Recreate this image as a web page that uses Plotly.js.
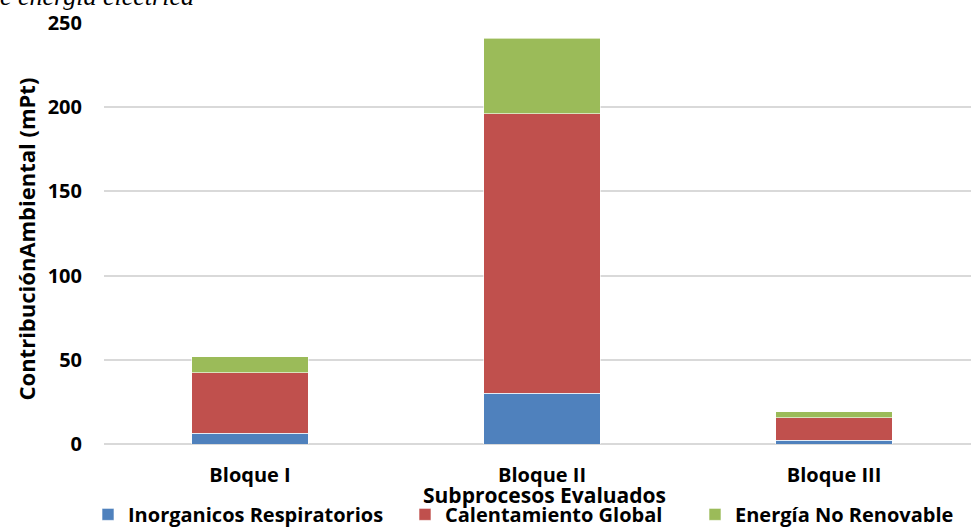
<!DOCTYPE html>
<html>
<head>
<meta charset="utf-8">
<script src="https://cdn.plot.ly/plotly-3.0.1.min.js"></script>
<style>html,body{margin:0;padding:0;background:#fff;}#chart{width:971px;height:529px;}</style>
</head>
<body>
<div id="chart"></div>
<script>
const categories = ["Bloque I", "Bloque II", "Bloque III"];
const seriesNames = ["Inorganicos Respiratorios", "Calentamiento Global", "Energía No Renovable"];
const inorganicos = [6.5, 30, 2.2];
const calentamiento = [35.7, 166, 13.4];
const energia = [9.5, 45, 3.6];
const yTicks = [0, 50, 100, 150, 200, 250];
const colors = ["#4f81bd", "#c0504d", "#9bbb59"];
const FONT = "'Open Sans', sans-serif";

const values = [inorganicos, calentamiento, energia];
const legendIds = ["legend", "legend2", "legend3"];
const legendTextX = [128, 445, 735];

const traces = values.map((v, i) => ({
  type: "bar",
  name: seriesNames[i],
  legend: legendIds[i],
  x: categories,
  y: v,
  width: 0.4,
  marker: {color: colors[i], line: {color: "rgba(255,255,255,0.6)", width: 1}},
  hoverinfo: "x+y+name"
}));

function legendAt(textX) {
  return {
    orientation: "h", xref: "container", yref: "container",
    x: (textX - 40) / 971, y: 0.0645, xanchor: "left", yanchor: "top",
    font: {family: FONT, size: 20, color: "#000", weight: 700},
    itemclick: false, borderwidth: 0, bgcolor: "rgba(0,0,0,0)"
  };
}

const layout = {
  width: 971, height: 529,
  barmode: "stack",
  paper_bgcolor: "#fff", plot_bgcolor: "#fff",
  margin: {l: 104, r: 0, t: 23, b: 85, autoexpand: false},
  font: {family: FONT, color: "#000", size: 16},
  showlegend: true,
  legend: legendAt(legendTextX[0]),
  legend2: legendAt(legendTextX[1]),
  legend3: legendAt(legendTextX[2]),
  xaxis: {
    type: "category",
    range: [-0.5, 2.469],
    showgrid: false, zeroline: false, showline: false,
    ticks: "", ticklabelstandoff: 17,
    tickfont: {family: FONT, size: 20, weight: 700}
  },
  yaxis: {
    range: [0, 250],
    tickvals: yTicks,
    ticktext: yTicks.map(String),
    showgrid: true, gridcolor: "#d9d9d9", gridwidth: 1.5,
    zeroline: true, zerolinecolor: "#d9d9d9", zerolinewidth: 1.5,
    showline: false, ticks: "", ticklabelstandoff: 21,
    tickfont: {family: FONT, size: 20, weight: 700}
  },
  annotations: [
    {
      text: "e energía eléctrica",
      xref: "paper", yref: "paper", x: 0, y: 1, xanchor: "left", yanchor: "bottom",
      xshift: -106, yshift: 10, showarrow: false,
      font: {family: "'Liberation Serif', 'DejaVu Serif', serif", size: 26, style: "italic", color: "#000"}
    },
    {
      text: "Subprocesos Evaluados",
      xref: "paper", yref: "paper", x: 0.5, y: -0.1188, xanchor: "center", yanchor: "middle",
      xshift: 7, yshift: -1, showarrow: false,
      font: {family: FONT, size: 21, weight: 700, color: "#000"}
    },
    {
      text: "ContribuciónAmbiental (mPt)",
      xref: "paper", yref: "paper", x: 0, y: 0.5, xanchor: "center", yanchor: "middle",
      xshift: -79, yshift: -6, textangle: -90, showarrow: false,
      font: {family: FONT, size: 22, weight: 700, color: "#000"}
    }
  ]
};

Plotly.newPlot("chart", traces, layout, {displayModeBar: false});
</script>
</body>
</html>
